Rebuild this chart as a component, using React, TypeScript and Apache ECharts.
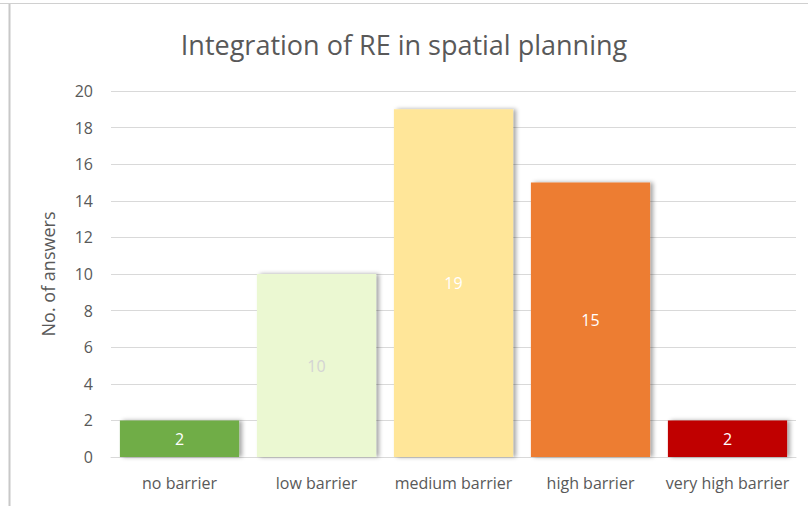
import React, { useEffect, useRef } from "react";
import * as echarts from "echarts";

const categories = ["no barrier", "low barrier", "medium barrier", "high barrier", "very high barrier"];
const values = [2, 10, 19, 15, 2];
const barColors = ["#70AD47", "#EBF8D2", "#FFE699", "#ED7D31", "#C00000"];
const labelColors = ["#FFFFFF", "#D4D4D4", "#FFFFFF", "#FFFFFF", "#FFFFFF"];
const titleText = "Integration of RE in spatial planning";
const yAxisName = "No. of answers";

export default function App() {
  const ref = useRef<HTMLDivElement>(null);
  useEffect(() => {
    if (!ref.current) return;
    const chart = echarts.init(ref.current, null, { renderer: "svg" });
    const font = "'Open Sans', sans-serif";
    chart.setOption({
      animation: false,
      backgroundColor: "#FFFFFF",
      title: {
        text: titleText,
        left: "center",
        top: 26,
        textStyle: { fontFamily: font, fontSize: 27, fontWeight: "normal", color: "#595959" },
      },
      graphic: [
        { type: "line", shape: { x1: 0, y1: 3.5, x2: 808, y2: 3.5 }, style: { stroke: "#D0D0D0", lineWidth: 1 } },
        { type: "line", shape: { x1: 9.5, y1: 4, x2: 9.5, y2: 506 }, style: { stroke: "#C8C8C8", lineWidth: 2 } },
      ],
      grid: { left: 111, right: 12, top: 91, bottom: 49 },
      xAxis: {
        type: "category",
        data: categories,
        axisTick: { show: false },
        axisLine: { lineStyle: { color: "#D9D9D9" } },
        axisLabel: { fontFamily: font, fontSize: 16, color: "#595959", margin: 18, interval: 0 },
      },
      yAxis: {
        type: "value",
        min: 0,
        max: 20,
        interval: 2,
        name: yAxisName,
        nameLocation: "middle",
        nameGap: 54,
        nameRotate: 90,
        nameTextStyle: { fontFamily: font, fontSize: 18, color: "#595959" },
        axisLine: { show: false },
        axisTick: { show: false },
        axisLabel: { fontFamily: font, fontSize: 16, color: "#595959", margin: 18 },
        splitLine: { lineStyle: { color: "#D9D9D9", width: 1 } },
      },
      series: [
        {
          type: "bar",
          barCategoryGap: "13%",
          data: values.map((v, i) => ({
            value: v,
            itemStyle: { color: barColors[i] },
            label: { color: labelColors[i] },
          })),
          itemStyle: {
            shadowColor: "rgba(0,0,0,0.35)",
            shadowBlur: 4,
            shadowOffsetX: 3,
            shadowOffsetY: 0,
          },
          label: {
            show: true,
            position: "inside",
            fontFamily: font,
            fontSize: 16,
          },
        },
      ],
    });
    return () => chart.dispose();
  }, []);
  return <div ref={ref} style={{ position: "absolute", left: 0, top: 0, width: 808, height: 506 }} />;
}
